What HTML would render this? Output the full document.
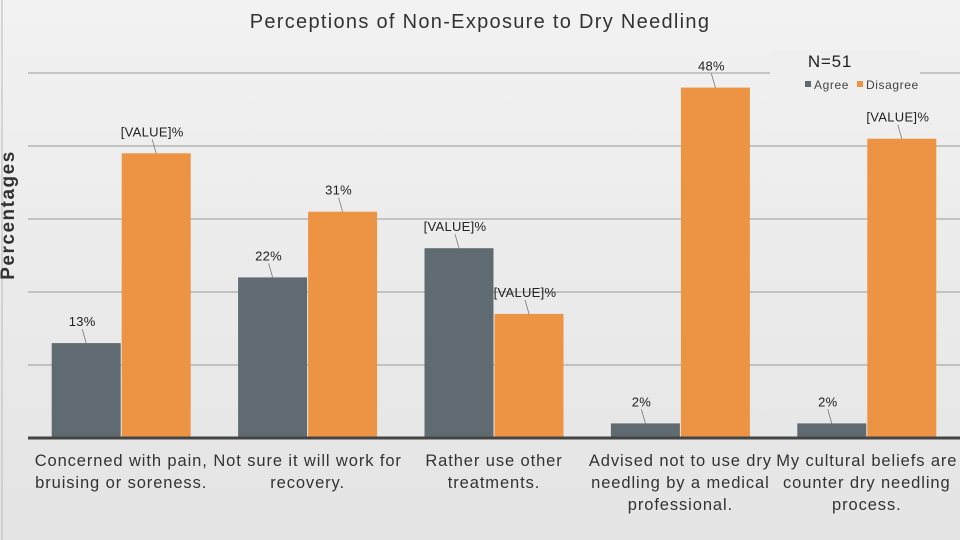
<!DOCTYPE html>
<html><head><meta charset="utf-8"><style>
body{margin:0;width:960px;height:540px;overflow:hidden;background:linear-gradient(#f2f2f2,#e4e4e4);font-family:"Liberation Sans",sans-serif}
svg{display:block}
</style></head><body>
<svg width="960" height="540">
<script>
const categories=[["Concerned with pain,","bruising or soreness."],["Not sure it will work for","recovery."],["Rather use other","treatments."],["Advised not to use dry","needling by a medical","professional."],["My cultural beliefs are","counter dry needling","process."]];
const agree=[13,22,26,2,2];
const disagree=[39,31,17,48,41];
const agreeLabels=["13%","22%","[VALUE]%","2%","2%"];
const disagreeLabels=["[VALUE]%","31%","[VALUE]%","48%","[VALUE]%"];
const yTicks=[0,10,20,30,40,50];
</script>
<line x1="2" y1="0" x2="2" y2="540" stroke="#bbb"/>
<text x="480" y="28" text-anchor="middle" font-size="20" letter-spacing="1.3" fill="#333">Perceptions of Non-Exposure to Dry Needling</text>
<text x="14" y="215" transform="rotate(-90 14 215)" text-anchor="middle" font-size="19" letter-spacing="1.5" font-weight="bold" fill="#333">Percentages</text>
<g id="grid"></g><g id="bars"></g><g id="labels"></g><g id="cats"></g>
<line x1="28" y1="438" x2="960" y2="438" stroke="#444" stroke-width="3"/>
<rect x="770" y="50" width="150" height="46" fill="#efefef"/>
<text x="830" y="67" text-anchor="middle" font-size="17" letter-spacing="0.8" fill="#222">N=51</text>
<g>
<rect x="805" y="81" width="6" height="6" fill="#5f6b70"/>
<text x="814" y="89" font-size="12" letter-spacing="0.6" fill="#444">Agree</text>
<rect x="857" y="81" width="6" height="6" fill="#ec9444"/>
<text x="866" y="89" font-size="12" letter-spacing="0.6" fill="#444">Disagree</text>
</g>
<script>
(function(){
const NS="http://www.w3.org/2000/svg";
const x0=28,step=186.4,base=438,ppu=7.3;
const y=v=>base-v*ppu;
function mk(t,a,p){const e=document.createElementNS(NS,t);for(const k in a)e.setAttribute(k,a[k]);p.appendChild(e);return e;}
const g=document.getElementById('grid'),b=document.getElementById('bars'),l=document.getElementById('labels'),c=document.getElementById('cats');
yTicks.forEach(t=>{if(t===0)return;const e=mk('line',{x1:x0,x2:960,y1:y(t),y2:y(t),stroke:'#999','stroke-width':1},g);

});
categories.forEach((cat,i)=>{
 const cx=x0+step*(i+0.5);
 [[agree,agreeLabels,cx-69.5,'#5f6b70','agree'],[disagree,disagreeLabels,cx+0.5,'#ec9444','disagree']].forEach(([vals,labs,bx,col,nm])=>{
  const r=mk('rect',{x:bx,y:y(vals[i]),width:69,height:vals[i]*ppu,fill:col},b);
  
  
  const mx=bx+34.5,ty=y(vals[i]);
  const ln=mk('line',{x1:mx-4,y1:ty-14,x2:mx,y2:ty,stroke:'#777','stroke-width':0.8},l);
  
  
  const tx=mk('text',{x:mx-4,y:ty-17,'text-anchor':'middle','font-size':13,'letter-spacing':0.3,fill:'#222'},l);
  tx.textContent=labs[i];
  
  
 });
 cat.forEach((line,j)=>{const t=mk('text',{x:cx,y:466+j*22,'text-anchor':'middle','font-size':16.5,'letter-spacing':0.9,fill:'#333'},c);
  t.textContent=line;
  
  });
});
})();
</script>
</svg>
</body></html>
